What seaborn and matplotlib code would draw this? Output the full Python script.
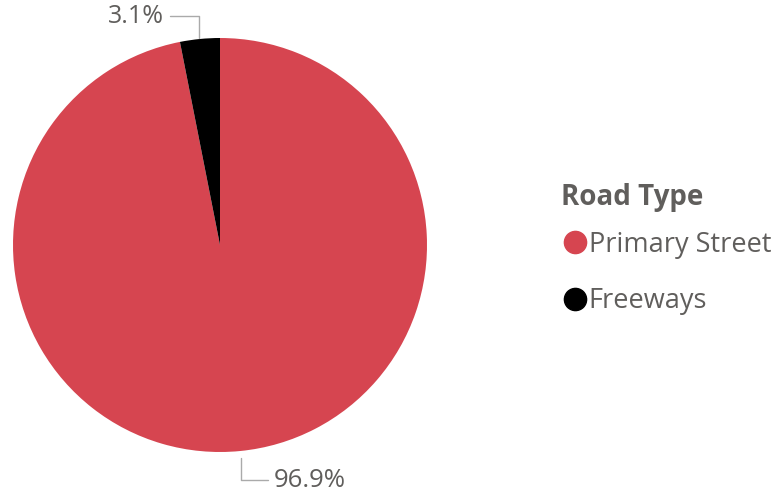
import matplotlib.pyplot as plt
import seaborn as sns
from matplotlib.lines import Line2D

# road type share
road_types = ['Primary Street', 'Freeways']
shares = [96.9, 3.1]
colors = ['#D64550', '#000000']

sns.set_theme(style='white')
plt.rcParams['font.family'] = ['Open Sans', 'DejaVu Sans']

fig = plt.figure(figsize=(7.82, 4.98), dpi=100)
# pie axes placed in pixel terms (center ~ (220,245), radius ~207)
ax = fig.add_axes([13 / 782, 46 / 498, 414 / 782, 414 / 498])
ax.pie(shares, colors=colors, startangle=90, counterclock=False,
       wedgeprops={'linewidth': 0})
ax.set_xlim(-1, 1)
ax.set_ylim(-1, 1)
ax.set_aspect('equal')
ax.axis('off')

txt_col = '#605E5C'
line_col = '#AAAAAA'

# leader lines + labels
ax.plot([-0.10, -0.10, -0.24], [1.0, 1.105, 1.105], color=line_col, lw=1, clip_on=False)
ax.text(-0.27, 1.105, f'{shares[1]}%', ha='right', va='center', fontsize=18, color=txt_col)
ax.plot([0.10, 0.10, 0.23], [-1.03, -1.135, -1.135], color=line_col, lw=1, clip_on=False)
ax.text(0.26, -1.14, f'{shares[0]}%', ha='left', va='center', fontsize=18.5, color=txt_col)

# legend title drawn separately so spacing matches
fig.text(561 / 782, 1 - 197 / 498, 'Road Type', ha='left', va='center',
         fontsize=20, fontweight='bold', color=txt_col)

handles = [Line2D([0], [0], marker='o', linestyle='', markersize=16,
                  markerfacecolor=c, markeredgecolor=c) for c in colors]
leg = fig.legend(handles, road_types, loc='upper left',
                 bbox_to_anchor=(552 / 782, 1 - 220 / 498), frameon=False,
                 fontsize=19.5, handletextpad=0.05,
                 labelspacing=1.05, handlelength=0.9, borderaxespad=0)
for t in leg.get_texts():
    t.set_color(txt_col)

fig.savefig('out.png', dpi=100)
